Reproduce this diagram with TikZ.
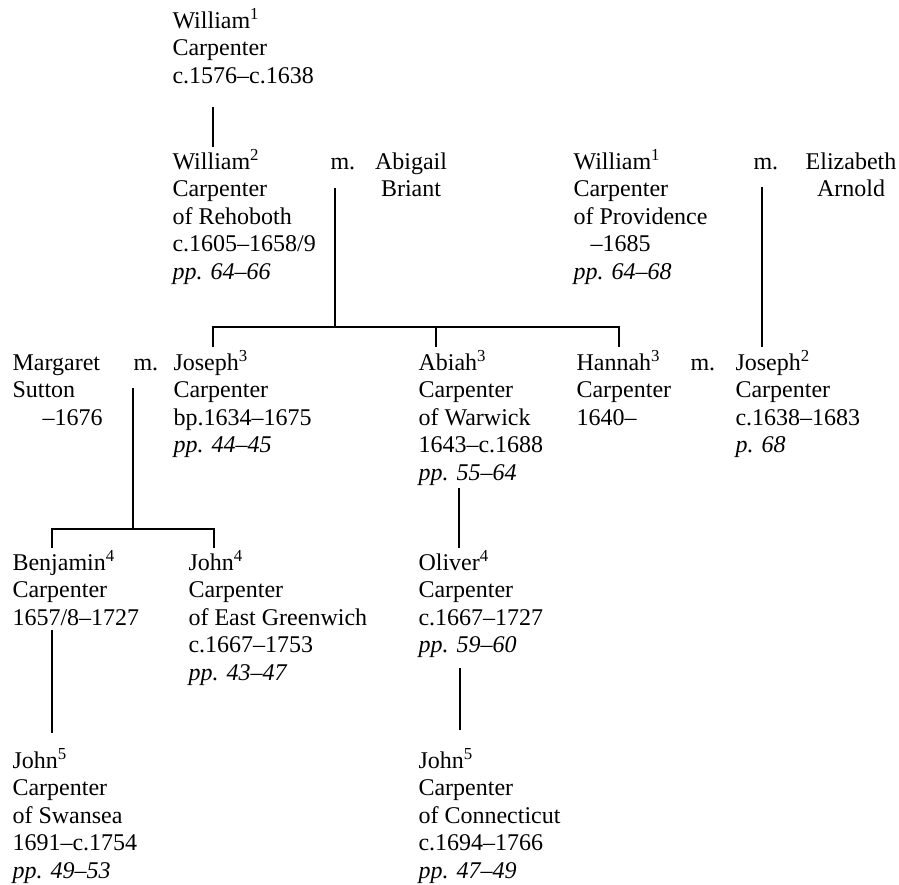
\documentclass[tikz,border=0pt]{standalone}
\usepackage{fontspec}
\setmainfont{Liberation Serif}
\begin{document}
\begin{tikzpicture}[x=1bp,y=-1bp,line width=1.1bp,
  person/.style={anchor=base west,align=left,inner sep=0pt,
    font=\fontsize{24bp}{27.6bp}\selectfont,yshift={(1-#1)*27.6bp}},
  person/.default=1,
  spouse/.style={person=#1,anchor=base,align=center}]
\useasboundingbox (0,0) rectangle (899,885);
% first generations
\node[person=3] (w1) at (172,28) {William\textsuperscript{1}\\Carpenter\\c.1576--c.1638};
\node[person=5] (w2) at (172,169) {William\textsuperscript{2}\\Carpenter\\of Rehoboth\\c.1605--1658/9\\\textit{pp. 64--66}};
\node[person] (mw2) at (330,169) {m.};
\node[spouse=2] (abigail) at (411,169) {Abigail\\Briant};
\node[person=5] (wprov) at (573,169) {William\textsuperscript{1}\\Carpenter\\of Providence\\\hspace*{17bp}--1685\\\textit{pp. 64--68}};
\node[person] (mwp) at (753,169) {m.};
\node[spouse=2] (elizabeth) at (851,169) {Elizabeth\\Arnold};
% children of William2
\node[person=3] (margaret) at (12,370) {Margaret\\Sutton\\\hspace*{30bp}--1676};
\node[person] (mjo) at (133,370) {m.};
\node[person=4] (joseph3) at (173,370) {Joseph\textsuperscript{3}\\Carpenter\\bp.1634--1675\\\textit{pp. 44--45}};
\node[person=5] (abiah3) at (418,370) {Abiah\textsuperscript{3}\\Carpenter\\of Warwick\\1643--c.1688\\\textit{pp. 55--64}};
\node[person=3] (hannah3) at (576,370) {Hannah\textsuperscript{3}\\Carpenter\\1640--};
\node[person] (mha) at (690,370) {m.};
\node[person=4] (joseph2) at (735,370) {Joseph\textsuperscript{2}\\Carpenter\\c.1638--1683\\\textit{p. 68}};
% fourth and fifth generation
\node[person=3] (benjamin4) at (12,570) {Benjamin\textsuperscript{4}\\Carpenter\\1657/8--1727};
\node[person=5] (john4) at (188,570) {John\textsuperscript{4}\\Carpenter\\of East Greenwich\\c.1667--1753\\\textit{pp. 43--47}};
\node[person=4] (oliver4) at (418,570) {Oliver\textsuperscript{4}\\Carpenter\\c.1667--1727\\\textit{pp. 59--60}};
\node[person=5] (john5s) at (12,768) {John\textsuperscript{5}\\Carpenter\\of Swansea\\1691--c.1754\\\textit{pp. 49--53}};
\node[person=5] (john5c) at (418,768) {John\textsuperscript{5}\\Carpenter\\of Connecticut\\c.1694--1766\\\textit{pp. 47--49}};
% lines
\coordinate (w1d) at (213,107);
\coordinate (w2u) at (213,147);
\coordinate (mw2d) at (335,188);
\coordinate (barA) at (335,327);
\coordinate (joseph3u) at (213,347);
\coordinate (abiah3u) at (436,347);
\coordinate (hannah3u) at (619,347);
\coordinate (mwpd) at (762,187);
\coordinate (joseph2u) at (762,347);
\coordinate (mjod) at (133,388);
\coordinate (barB) at (133,529);
\coordinate (benjamin4u) at (52,548);
\coordinate (john4u) at (214,548);
\coordinate (abiah3d) at (459,488);
\coordinate (oliver4u) at (459,548);
\coordinate (benjamin4d) at (52,630);
\coordinate (john5su) at (52,733);
\coordinate (oliver4d) at (460,668);
\coordinate (john5cu) at (460,730);
\draw (w1d) -- (w2u);
\draw (mw2d) -- (barA);
\draw (joseph3u) |- (barA) -| (hannah3u);
\draw (abiah3u) -- (abiah3u |- barA);
\draw (mwpd) -- (joseph2u);
\draw (mjod) -- (barB);
\draw (benjamin4u) |- (barB) -| (john4u);
\draw (abiah3d) -- (oliver4u);
\draw (benjamin4d) -- (john5su);
\draw (oliver4d) -- (john5cu);
\end{tikzpicture}
\end{document}
